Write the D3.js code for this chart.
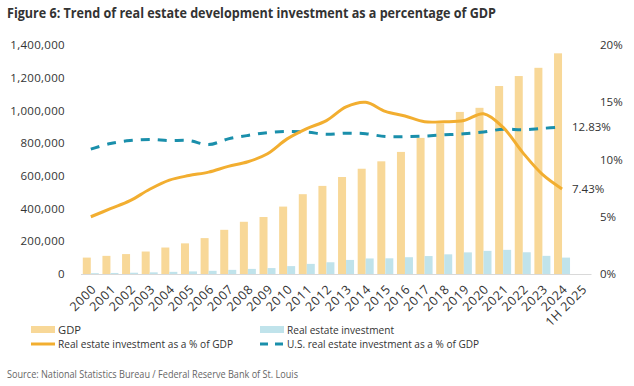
<!DOCTYPE html>
<html>
<head>
<meta charset="utf-8">
<script src="https://cdn.jsdelivr.net/npm/d3@7"></script>
<style>
  body { margin: 0; background: #fff; }
  text { font-family: "Open Sans", "DejaVu Sans", sans-serif; }
</style>
</head>
<body>
<svg id="chart" width="634" height="386"></svg>
<script>
// categories (x axis)
let years = ["2000","2001","2002","2003","2004","2005","2006","2007","2008","2009","2010","2011","2012",
             "2013","2014","2015","2016","2017","2018","2019","2020","2021","2022","2023","2024","1H 2025"];

// GDP (100 million yuan)
let gdp = [100280,110863,121717,137422,161840,187319,219439,270092,319245,348518,412119,487940,538580,
           592963,643563,688858,746395,832036,919281,990865,1015986,1149237,1210207,1260582,1349084];

// real estate development investment
let realEstate = [4984,6344,7791,10154,13158,15909,19423,25289,31203,36242,48259,61797,71804,
                  86013,95036,95979,102581,109799,120264,132194,141443,147602,132895,110913,100280];

// real estate investment as % of GDP
let pctChina = [5.0,5.7,6.4,7.4,8.2,8.6,8.9,9.4,9.8,10.5,11.8,12.7,13.4,
                14.6,15.0,14.2,13.8,13.3,13.3,13.4,14.0,12.8,10.6,8.7,7.43];

// U.S. real estate investment as % of GDP
let pctUS = [10.9,11.4,11.65,11.75,11.65,11.65,11.3,11.8,12.1,12.35,12.45,12.4,12.2,
             12.3,12.25,12.0,12.0,12.05,12.15,12.25,12.4,12.65,12.6,12.72,12.83];

let leftTicks = [0,200000,400000,600000,800000,1000000,1200000,1400000];
let rightTicks = [0,5,10,15,20];

let svg = d3.select("#chart");

let x = d3.scaleBand().domain(years).range([81, 591.5]);
let xSub = d3.scaleBand().domain(["gdp","re"]).range([1.8, 17.8]);
let yL = d3.scaleLinear().domain([0,1400000]).range([274,45]);
let yR = d3.scaleLinear().domain([0,20]).range([274,45]);

let cx = (i) => x(years[i]) + x.bandwidth()/2;

// title
svg.append("text").attr("x",7).attr("y",18)
   .attr("font-size","14.6px").attr("font-weight","bold").attr("fill","#333")
   .attr("textLength",489).attr("lengthAdjust","spacingAndGlyphs")
   .text("Figure 6: Trend of real estate development investment as a percentage of GDP");

// bars
svg.append("g").selectAll("rect").data(gdp).enter().append("rect")
   .attr("x",(d,i) => x(years[i]) + xSub("gdp"))
   .attr("width", xSub.bandwidth())
   .attr("y", d => yL(d))
   .attr("height", d => yL(0) - yL(d))
   .attr("fill","#f8d898");

svg.append("g").selectAll("rect").data(realEstate).enter().append("rect")
   .attr("x",(d,i) => x(years[i]) + xSub("re"))
   .attr("width", xSub.bandwidth())
   .attr("y", d => yL(d))
   .attr("height", d => yL(0) - yL(d))
   .attr("fill","#c0e3eb");

// baseline
svg.append("line").attr("x1",81).attr("x2",591.5).attr("y1",274.5).attr("y2",274.5)
   .attr("stroke","#d9d9d9").attr("stroke-width",1);

// left axis
let yAxisL = d3.axisLeft(yL).tickValues(leftTicks).tickSize(0).tickPadding(0)
   .tickFormat(d3.format(","));
let gl = svg.append("g").attr("transform","translate(65,0)").call(yAxisL);
gl.select(".domain").remove();
gl.selectAll("text").attr("font-size","11.5px").attr("fill","#333").attr("font-family","Open Sans")
  .attr("letter-spacing","0.3px");

// right axis
let yAxisR = d3.axisRight(yR).tickValues(rightTicks).tickSize(0).tickPadding(0)
   .tickFormat(d => d + "%");
let gr = svg.append("g").attr("transform","translate(600,0)").call(yAxisR);
gr.select(".domain").remove();
gr.selectAll("text").attr("font-size","11.5px").attr("fill","#333").attr("font-family","Open Sans");

// x axis labels
let xAxis = d3.axisBottom(x).tickSize(0).tickPadding(0);
let gx = svg.append("g").attr("transform","translate(3,287)").call(xAxis);
gx.select(".domain").remove();
gx.selectAll("text")
  .attr("font-size","12.5px").attr("fill","#333").attr("font-family","Open Sans")
  .attr("letter-spacing","0.6px")
  .attr("text-anchor","end").attr("dy","0.35em").attr("y",0)
  .attr("transform","rotate(-45)");

// lines
let lineChina = d3.line().curve(d3.curveCatmullRom.alpha(0.5))
   .x((d,i) => cx(i)).y(d => yR(d));
let lineUS = d3.line().curve(d3.curveCatmullRom.alpha(0.5))
   .x((d,i) => cx(i)).y(d => yR(d));

svg.append("path").attr("d", lineUS(pctUS))
   .attr("fill","none").attr("stroke","#1a8fab").attr("stroke-width",3)
   .attr("stroke-dasharray","9,8");

svg.append("path").attr("d", lineChina(pctChina))
   .attr("fill","none").attr("stroke","#f2ae30").attr("stroke-width",3);

// end labels
svg.append("text").attr("x",572).attr("y",yR(pctUS[pctUS.length-1])).attr("dy","0.35em")
   .attr("font-size","11.5px").attr("fill","#333").text("12.83%");
svg.append("text").attr("x",572).attr("y",yR(pctChina[pctChina.length-1])).attr("dy","0.35em")
   .attr("font-size","11.5px").attr("fill","#333").text("7.43%");

// legend
let legend = svg.append("g").attr("font-size","11.5px").attr("fill","#333");
legend.append("rect").attr("x",31).attr("y",326).attr("width",24).attr("height",7).attr("fill","#f8d898");
legend.append("text").attr("x",58).attr("y",330).attr("dy","0.35em").attr("fill","#333")
   .attr("textLength",23).attr("lengthAdjust","spacingAndGlyphs").text("GDP");
legend.append("rect").attr("x",260).attr("y",326).attr("width",24).attr("height",7).attr("fill","#c0e3eb");
legend.append("text").attr("x",287).attr("y",330).attr("dy","0.35em").attr("fill","#333")
   .attr("textLength",107).attr("lengthAdjust","spacingAndGlyphs").text("Real estate investment");
legend.append("line").attr("x1",31).attr("x2",55).attr("y1",344).attr("y2",344)
   .attr("stroke","#f2ae30").attr("stroke-width",3);
legend.append("text").attr("x",58).attr("y",344).attr("dy","0.35em").attr("fill","#333")
   .attr("textLength",175).attr("lengthAdjust","spacingAndGlyphs").text("Real estate investment as a % of GDP");
legend.append("line").attr("x1",260).attr("x2",284).attr("y1",344).attr("y2",344)
   .attr("stroke","#1a8fab").attr("stroke-width",3).attr("stroke-dasharray","8,7");
legend.append("text").attr("x",287).attr("y",344).attr("dy","0.35em").attr("fill","#333")
   .attr("textLength",192).attr("lengthAdjust","spacingAndGlyphs").text("U.S. real estate investment as a % of GDP");

// source
svg.append("text").attr("x",7).attr("y",378)
   .attr("font-size","10px").attr("fill","#666")
   .attr("textLength",291).attr("lengthAdjust","spacingAndGlyphs")
   .text("Source: National Statistics Bureau / Federal Reserve Bank of St. Louis");
</script>
</body>
</html>
